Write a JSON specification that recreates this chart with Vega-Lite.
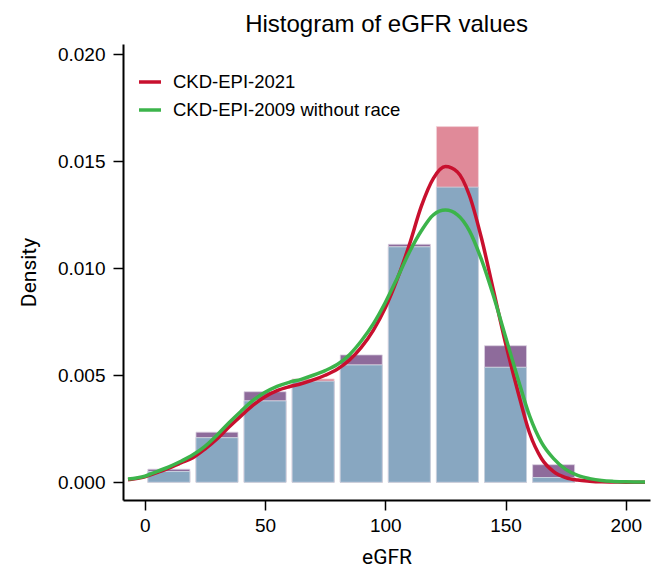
{
  "$schema": "https://vega.github.io/schema/vega-lite/v6.json",
  "width": 527,
  "height": 456,
  "autosize": {"type": "none"},
  "padding": {"left": 123, "top": 44, "right": 16, "bottom": 83},
  "background": "white",
  "title": {"text": "Histogram of eGFR values", "fontSize": 24, "font": "Liberation Sans", "fontWeight": "normal", "color": "black", "anchor": "middle", "offset": 7},
  "config": {
    "view": {"stroke": null},
    "axis": {"grid": false, "domainColor": "black", "domainWidth": 2, "tickColor": "black", "tickWidth": 1.5, "tickSize": 10, "labelColor": "black", "labelFont": "Liberation Sans", "labelFontSize": 19, "labelPadding": 8, "titleColor": "black", "titleFont": "Liberation Sans Narrow, Roboto, sans-serif", "titleFontSize": 21, "titleFontWeight": "normal"}
  },
  "datasets": {
    "hist": [
      {"mid": 10, "d2009": 0.00061, "d2021": 0.00050, "both": 0.00050},
      {"mid": 30, "d2009": 0.00234, "d2021": 0.00208, "both": 0.00208},
      {"mid": 50, "d2009": 0.00423, "d2021": 0.00380, "both": 0.00380},
      {"mid": 70, "d2009": 0.00472, "d2021": 0.00483, "both": 0.00472},
      {"mid": 90, "d2009": 0.00595, "d2021": 0.00548, "both": 0.00548},
      {"mid": 110, "d2009": 0.01112, "d2021": 0.01100, "both": 0.01100},
      {"mid": 130, "d2009": 0.01379, "d2021": 0.01662, "both": 0.01379},
      {"mid": 150, "d2009": 0.00638, "d2021": 0.00537, "both": 0.00537},
      {"mid": 170, "d2009": 0.00082, "d2021": 0.00022, "both": 0.00022}
    ],
    "curves": [
      {"method": "CKD-EPI-2021", "eGFR": -7, "density": 0.00012},
      {"method": "CKD-EPI-2021", "eGFR": 0, "density": 0.00025},
      {"method": "CKD-EPI-2021", "eGFR": 5, "density": 0.00045},
      {"method": "CKD-EPI-2021", "eGFR": 10, "density": 0.00066},
      {"method": "CKD-EPI-2021", "eGFR": 15, "density": 0.0009},
      {"method": "CKD-EPI-2021", "eGFR": 20, "density": 0.00115},
      {"method": "CKD-EPI-2021", "eGFR": 25, "density": 0.00155},
      {"method": "CKD-EPI-2021", "eGFR": 30, "density": 0.00202},
      {"method": "CKD-EPI-2021", "eGFR": 35, "density": 0.00258},
      {"method": "CKD-EPI-2021", "eGFR": 40, "density": 0.0031},
      {"method": "CKD-EPI-2021", "eGFR": 45, "density": 0.0036},
      {"method": "CKD-EPI-2021", "eGFR": 50, "density": 0.004},
      {"method": "CKD-EPI-2021", "eGFR": 55, "density": 0.00428},
      {"method": "CKD-EPI-2021", "eGFR": 60, "density": 0.00446},
      {"method": "CKD-EPI-2021", "eGFR": 65, "density": 0.0046},
      {"method": "CKD-EPI-2021", "eGFR": 70, "density": 0.00478},
      {"method": "CKD-EPI-2021", "eGFR": 75, "density": 0.005},
      {"method": "CKD-EPI-2021", "eGFR": 80, "density": 0.00528},
      {"method": "CKD-EPI-2021", "eGFR": 85, "density": 0.0057},
      {"method": "CKD-EPI-2021", "eGFR": 90, "density": 0.0063},
      {"method": "CKD-EPI-2021", "eGFR": 95, "density": 0.0071},
      {"method": "CKD-EPI-2021", "eGFR": 100, "density": 0.00815},
      {"method": "CKD-EPI-2021", "eGFR": 105, "density": 0.0095},
      {"method": "CKD-EPI-2021", "eGFR": 110, "density": 0.0111},
      {"method": "CKD-EPI-2021", "eGFR": 115, "density": 0.0129},
      {"method": "CKD-EPI-2021", "eGFR": 120, "density": 0.0142},
      {"method": "CKD-EPI-2021", "eGFR": 125, "density": 0.01475},
      {"method": "CKD-EPI-2021", "eGFR": 130, "density": 0.0145},
      {"method": "CKD-EPI-2021", "eGFR": 135, "density": 0.0134},
      {"method": "CKD-EPI-2021", "eGFR": 140, "density": 0.0114},
      {"method": "CKD-EPI-2021", "eGFR": 145, "density": 0.00895},
      {"method": "CKD-EPI-2021", "eGFR": 150, "density": 0.0065},
      {"method": "CKD-EPI-2021", "eGFR": 155, "density": 0.0043},
      {"method": "CKD-EPI-2021", "eGFR": 160, "density": 0.0023},
      {"method": "CKD-EPI-2021", "eGFR": 165, "density": 0.0011},
      {"method": "CKD-EPI-2021", "eGFR": 170, "density": 0.0005},
      {"method": "CKD-EPI-2021", "eGFR": 175, "density": 0.00022},
      {"method": "CKD-EPI-2021", "eGFR": 180, "density": 0.0001},
      {"method": "CKD-EPI-2021", "eGFR": 185, "density": 0.00005},
      {"method": "CKD-EPI-2021", "eGFR": 190, "density": 0.00002},
      {"method": "CKD-EPI-2021", "eGFR": 195, "density": 0.00001},
      {"method": "CKD-EPI-2021", "eGFR": 200, "density": 0.0},
      {"method": "CKD-EPI-2021", "eGFR": 208, "density": 0.0},
      {"method": "CKD-EPI-2009 without race", "eGFR": -7, "density": 0.00015},
      {"method": "CKD-EPI-2009 without race", "eGFR": 0, "density": 0.00028},
      {"method": "CKD-EPI-2009 without race", "eGFR": 5, "density": 0.0005},
      {"method": "CKD-EPI-2009 without race", "eGFR": 10, "density": 0.00072},
      {"method": "CKD-EPI-2009 without race", "eGFR": 15, "density": 0.00098},
      {"method": "CKD-EPI-2009 without race", "eGFR": 20, "density": 0.00128},
      {"method": "CKD-EPI-2009 without race", "eGFR": 25, "density": 0.00168},
      {"method": "CKD-EPI-2009 without race", "eGFR": 30, "density": 0.0022},
      {"method": "CKD-EPI-2009 without race", "eGFR": 35, "density": 0.00278},
      {"method": "CKD-EPI-2009 without race", "eGFR": 40, "density": 0.00332},
      {"method": "CKD-EPI-2009 without race", "eGFR": 45, "density": 0.00382},
      {"method": "CKD-EPI-2009 without race", "eGFR": 50, "density": 0.0042},
      {"method": "CKD-EPI-2009 without race", "eGFR": 55, "density": 0.00448},
      {"method": "CKD-EPI-2009 without race", "eGFR": 60, "density": 0.00467},
      {"method": "CKD-EPI-2009 without race", "eGFR": 65, "density": 0.00481},
      {"method": "CKD-EPI-2009 without race", "eGFR": 70, "density": 0.005},
      {"method": "CKD-EPI-2009 without race", "eGFR": 75, "density": 0.00522},
      {"method": "CKD-EPI-2009 without race", "eGFR": 80, "density": 0.0055},
      {"method": "CKD-EPI-2009 without race", "eGFR": 85, "density": 0.00595},
      {"method": "CKD-EPI-2009 without race", "eGFR": 90, "density": 0.0066},
      {"method": "CKD-EPI-2009 without race", "eGFR": 95, "density": 0.0074},
      {"method": "CKD-EPI-2009 without race", "eGFR": 100, "density": 0.0084},
      {"method": "CKD-EPI-2009 without race", "eGFR": 105, "density": 0.00955},
      {"method": "CKD-EPI-2009 without race", "eGFR": 110, "density": 0.01075},
      {"method": "CKD-EPI-2009 without race", "eGFR": 115, "density": 0.01175},
      {"method": "CKD-EPI-2009 without race", "eGFR": 120, "density": 0.0125},
      {"method": "CKD-EPI-2009 without race", "eGFR": 125, "density": 0.01272},
      {"method": "CKD-EPI-2009 without race", "eGFR": 130, "density": 0.0125},
      {"method": "CKD-EPI-2009 without race", "eGFR": 135, "density": 0.01175},
      {"method": "CKD-EPI-2009 without race", "eGFR": 140, "density": 0.0104},
      {"method": "CKD-EPI-2009 without race", "eGFR": 145, "density": 0.0087},
      {"method": "CKD-EPI-2009 without race", "eGFR": 150, "density": 0.0068},
      {"method": "CKD-EPI-2009 without race", "eGFR": 155, "density": 0.0049},
      {"method": "CKD-EPI-2009 without race", "eGFR": 160, "density": 0.0031},
      {"method": "CKD-EPI-2009 without race", "eGFR": 165, "density": 0.00185},
      {"method": "CKD-EPI-2009 without race", "eGFR": 170, "density": 0.0011},
      {"method": "CKD-EPI-2009 without race", "eGFR": 175, "density": 0.0006},
      {"method": "CKD-EPI-2009 without race", "eGFR": 180, "density": 0.00032},
      {"method": "CKD-EPI-2009 without race", "eGFR": 185, "density": 0.00017},
      {"method": "CKD-EPI-2009 without race", "eGFR": 190, "density": 0.00008},
      {"method": "CKD-EPI-2009 without race", "eGFR": 195, "density": 0.00004},
      {"method": "CKD-EPI-2009 without race", "eGFR": 200, "density": 0.00002},
      {"method": "CKD-EPI-2009 without race", "eGFR": 208, "density": 0.00001}
    ]
  },
  "encoding": {
    "x": {"type": "quantitative", "scale": {"domain": [-7, 208], "nice": false, "zero": false}, "axis": {"title": "eGFR", "values": [0, 50, 100, 150, 200], "labelPadding": 6, "titlePadding": 11}},
    "y": {"type": "quantitative", "scale": {"domain": [-0.00083, 0.02048], "nice": false, "zero": false}, "axis": {"title": "Density", "values": [0, 0.005, 0.01, 0.015, 0.02], "format": ".3f", "titlePadding": 18}}
  },
  "layer": [
    {"data": {"name": "hist"}, "mark": {"type": "bar", "width": 42, "color": "#8e6b9b", "stroke": "#d9cfe0", "strokeWidth": 0.8},
     "encoding": {"x": {"field": "mid", "type": "quantitative"}, "y": {"field": "d2009", "type": "quantitative"}, "y2": {"datum": 0}}},
    {"data": {"name": "hist"}, "mark": {"type": "bar", "width": 42, "color": "#e08a99", "stroke": "#f3d3d9", "strokeWidth": 0.8},
     "encoding": {"x": {"field": "mid", "type": "quantitative"}, "y": {"field": "d2021", "type": "quantitative"}, "y2": {"datum": 0}}},
    {"data": {"name": "hist"}, "mark": {"type": "bar", "width": 42, "color": "#88a7c1", "stroke": "#c9d7e3", "strokeWidth": 0.8},
     "encoding": {"x": {"field": "mid", "type": "quantitative"}, "y": {"field": "both", "type": "quantitative"}, "y2": {"datum": 0}}},
    {"data": {"name": "curves"}, "transform": [{"filter": "datum.method === 'CKD-EPI-2021'"}],
     "mark": {"type": "line", "strokeWidth": 3.5, "interpolate": "monotone"},
     "encoding": {"x": {"field": "eGFR", "type": "quantitative"}, "y": {"field": "density", "type": "quantitative"},
       "color": {"field": "method", "type": "nominal", "scale": {"domain": ["CKD-EPI-2021", "CKD-EPI-2009 without race"], "range": ["#c8102e", "#3cb44b"]},
         "legend": {"title": null, "orient": "none", "legendX": 14, "legendY": 25, "symbolType": "stroke", "symbolStrokeWidth": 3.5, "symbolSize": 484, "labelFontSize": 18.5, "labelFont": "Liberation Sans", "labelColor": "black", "labelOffset": 10, "labelLimit": 0, "rowPadding": 5, "padding": 0}}}},
    {"data": {"name": "curves"}, "transform": [{"filter": "datum.method !== 'CKD-EPI-2021'"}],
     "mark": {"type": "line", "strokeWidth": 3.5, "interpolate": "monotone"},
     "encoding": {"x": {"field": "eGFR", "type": "quantitative"}, "y": {"field": "density", "type": "quantitative"},
       "color": {"field": "method", "type": "nominal"}}}
  ]
}
